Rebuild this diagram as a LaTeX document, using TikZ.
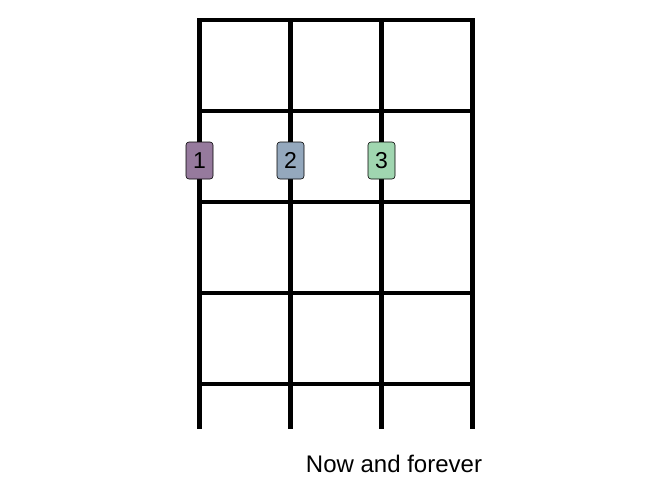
\documentclass[tikz,border=0pt]{standalone}
\usepackage{fontspec}
\setmainfont{Liberation Sans}
\usetikzlibrary{positioning}

\definecolor{fingerA}{RGB}{150,122,157}
\definecolor{fingerB}{RGB}{148,168,189}
\definecolor{fingerC}{RGB}{160,214,176}

\begin{document}
\begin{tikzpicture}[
  x=1pt, y=-1pt,
  string/.style={line width=4.3pt},
  fret/.style={line width=4.3pt, line cap=rect},
  finger/.style={
    draw, line width=0.6pt, rounded corners=3pt,
    minimum width=27pt, minimum height=37pt, inner sep=0pt,
    font=\fontsize{23}{26}\selectfont,
  },
  caption/.style={font=\fontsize{24}{28}\selectfont, anchor=base},
]
\useasboundingbox (0,0) rectangle (672,480);

% frets
\draw[fret] (199.5,20.3) -- (472.5,20.3);
\draw[fret] (199.5,111.3) -- (472.5,111.3);
\draw[fret] (199.5,202.3) -- (472.5,202.3);
\draw[fret] (199.5,293.3) -- (472.5,293.3);
\draw[fret] (199.5,384.3) -- (472.5,384.3);

% strings
\draw[string] (199.5,20.3) -- (199.5,429.3);
\draw[string] (290.5,20.3) -- (290.5,429.3);
\draw[string] (381.5,20.3) -- (381.5,429.3);
\draw[string] (472.5,20.3) -- (472.5,429.3);

\node[finger, fill=fingerA] (f1) at (199.5,160.5) {1};
\node[finger, fill=fingerB] (f2) at (290.5,160.5) {2};
\node[finger, fill=fingerC] (f3) at (381.5,160.5) {3};

\node[caption] (title) at (394,472) {Now and forever};

\end{tikzpicture}
\end{document}
